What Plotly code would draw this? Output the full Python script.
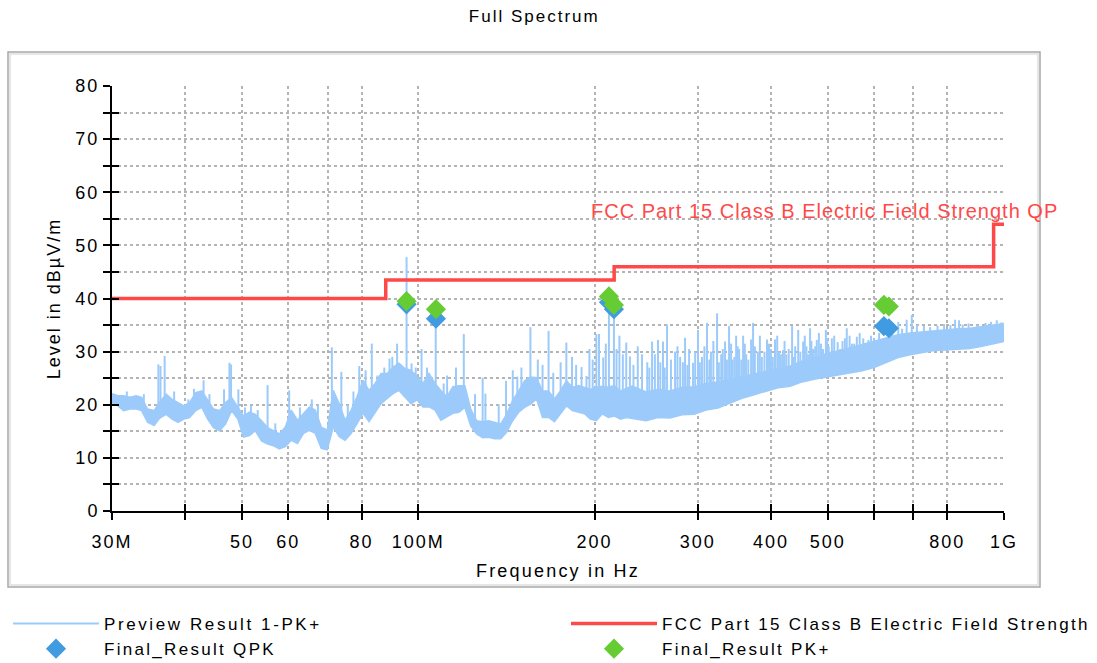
import math
import plotly.graph_objects as go

# ---------------- spectrum data (frequency in MHz, level in dBµV/m) ----------------
# Preview scan: noise band (lower / upper edge) and narrow-band emission peaks
BAND_MHZ = [30.0, 30.7, 31.4, 32.2, 33.0, 33.7, 34.5, 35.4, 36.2, 37.1, 38.0, 38.9, 39.8, 40.7,
            41.7, 42.7, 43.7, 44.7, 45.8, 46.9, 48.0, 49.2, 50.3, 51.5, 52.7, 54.0, 55.3, 56.6,
            57.9, 59.3, 60.7, 62.2, 63.7, 65.2, 66.7, 68.3, 69.9, 71.6, 73.3, 75.0, 76.8, 78.6,
            80.5, 82.4, 84.4, 86.4, 88.5, 90.6, 92.7, 94.9, 97.2, 99.5, 101.9, 104.3, 106.8,
            109.3, 111.9, 114.6, 117.3, 120.1, 122.9, 125.8, 128.8, 131.9, 135.0, 138.3, 141.5,
            144.9, 148.4, 151.9, 155.5, 159.2, 163.0, 166.9, 170.8, 174.9, 179.1, 183.3, 187.7,
            192.2, 196.7, 201.4, 206.2, 211.1, 216.1, 221.3, 226.5, 231.9, 244.9, 256.6, 269.0,
            282.1, 295.7, 310.0, 325.0, 340.7, 357.1, 374.4, 392.5, 411.5, 431.4, 452.2, 474.1,
            497.0, 521.1, 546.2, 572.6, 600.0, 629.1, 659.5, 691.4, 724.6, 759.7, 796.4, 834.9,
            875.2, 917.5, 961.9, 1000.0]
BAND_LO = [20.4, 19.8, 18.9, 19.2, 19.2, 18.9, 16.7, 16.1, 17.5, 18.2, 17.3, 16.7, 17.3, 17.6,
           18.9, 19.5, 17.3, 15.7, 15.1, 16.4, 18.9, 17.3, 13.9, 14.2, 15.1, 13.2, 12.6, 12.3,
           11.7, 12.1, 13.3, 12.7, 14.6, 15.2, 14.6, 11.8, 11.5, 15.8, 14.0, 13.3, 14.6, 16.5,
           18.4, 16.8, 18.4, 20.2, 21.2, 22.1, 22.7, 21.5, 20.2, 20.9, 19.6, 19.6, 19.0,
           17.1, 17.7, 18.4, 18.6, 19.5, 16.0, 14.5, 13.8, 13.9, 13.6, 13.6, 14.8,
           17.0, 18.6, 19.5, 20.1, 21.1, 17.6, 17.6, 16.8, 18.3, 19.8, 18.9, 18.6,
           18.3, 17.3, 17.0, 18.3, 17.6, 17.9, 17.3, 17.6, 17.4, 17.0, 17.6, 17.5,
           18.1, 18.2, 19.0, 19.4, 20.3, 21.2, 21.9, 22.6, 23.2, 23.5, 24.3, 24.8,
           25.2, 25.6, 26.0, 26.4, 27.0, 28.0, 28.9, 29.4, 29.8, 30.2, 30.3, 30.5,
           30.6, 31.0, 31.5, 31.9]
BAND_HI = [22.1, 21.7, 21.7, 21.4, 21.7, 21.4, 19.2, 18.9, 20.5, 22.0, 21.0, 20.4, 19.8, 20.4,
           22.3, 22.6, 21.0, 19.2, 18.9, 20.4, 21.4, 19.5, 17.9, 18.6, 18.2, 17.0, 15.7, 15.1,
           14.5, 15.8, 19.0, 17.1, 18.4, 19.6, 19.0, 15.8, 15.2, 22.7, 20.2, 17.1, 19.0, 21.5,
           24.6, 22.7, 24.0, 25.9, 25.9, 27.1, 27.8, 26.8, 26.5, 25.3, 24.0, 25.9, 24.0,
           22.7, 21.5, 23.4, 23.6, 23.6, 19.2, 17.0, 16.8, 17.0, 16.7, 16.4, 18.2,
           20.8, 22.6, 24.5, 25.2, 25.1, 22.6, 22.6, 21.1, 22.6, 24.5, 23.3, 23.6,
           23.3, 22.9, 23.3, 23.5, 23.3, 23.6, 22.6, 23.0, 23.5, 22.4, 22.9, 22.6,
           23.3, 23.4, 24.0, 24.3, 24.8, 25.4, 25.9, 26.4, 26.9, 27.3, 28.2, 28.9,
           29.6, 30.1, 30.7, 31.3, 32.0, 32.6, 33.2, 33.5, 33.7, 34.0, 34.1, 34.3,
           34.4, 34.7, 35.0, 35.3]

SPIKE_MHZ = [36.0, 36.3, 36.9, 43.0, 46.6, 47.6, 47.9, 49.3, 55.3, 60.2, 71.2, 73.9, 79.3, 83.3,
             89.3, 90.3, 92.0, 95.5, 97.4, 101.3, 107.1, 119.6, 128.8, 130.2, 137.2, 141.2,
             147.6, 155.4, 166.9, 179.0, 190.0, 193.7, 201.4, 203.5, 206.9, 211.6, 215.8,
             220.5, 226.5, 229.8, 237.0, 246.0, 250.7, 253.5, 256.6, 261.7, 265.9, 270.0,
             274.4, 280.0, 285.4, 290.0, 294.5, 300.3, 305.0, 311.1, 316.0, 323.7, 329.0,
             334.0, 339.3, 344.0, 348.9, 353.0, 358.6, 363.0, 370.0, 372.9, 380.0, 386.0,
             393.9, 400.0, 406.5, 413.0, 419.4, 425.0, 434.7, 440.0, 445.3, 454.0, 460.0,
             466.6, 472.0, 479.0, 487.0, 496.5, 502.0, 508.3, 520.0, 530.0, 539.0, 550.0,
             560.7, 575.0, 586.9, 600.0, 612.0, 645.0, 660.0, 670.0, 682.0, 696.0, 710.0,
             730.0, 747.8, 770.0, 790.0, 810.0, 825.0, 838.0, 850.0, 870.0, 900.0, 930.0,
             950.0, 972.0, 990.0,
             # smaller peaks riding on the noise floor
             31.8, 34.0, 38.3, 40.5, 41.4, 44.0, 50.6, 51.8, 53.2, 57.0, 62.8, 65.8, 67.4,
             75.8, 77.5, 81.3, 85.2, 87.5, 99.0, 103.5, 110.5, 112.0, 116.0, 125.0, 145.0,
             150.0, 160.0, 163.0, 170.0, 175.0, 183.0, 186.0, 196.0, 198.5, 209.0, 218.0,
             223.5, 233.0, 241.0, 248.0, 259.0, 263.5, 277.0, 283.0, 288.0, 297.0, 302.5,
             308.0, 314.0, 319.0, 326.0, 331.0, 336.5, 342.0, 346.5, 351.0, 356.0, 361.0,
             366.0, 375.5, 383.0, 390.0, 397.0, 403.0, 410.0, 416.0, 422.0, 429.0, 437.0,
             449.0, 457.0, 463.0, 469.0, 476.0, 483.0, 491.0, 499.0, 505.0, 513.0, 525.0,
             535.0, 545.0, 555.0, 567.0, 580.0, 593.0]
SPIKE_DB = [27.6, 27.3, 29.2, 24.6, 22.9, 27.9, 27.6, 22.9, 23.7, 22.7, 30.8, 26.2, 27.3, 31.5,
            28.7, 29.0, 31.5, 47.8, 27.8, 30.5, 37.0, 33.3, 25.1, 22.1, 20.1, 24.5,
            25.3, 34.6, 33.9, 31.7, 27.1, 25.4, 33.3, 33.3, 28.9, 39.5, 38.5,
            33.0, 31.7, 29.1, 31.0, 28.0, 31.9, 29.5, 32.2, 31.9, 35.1, 28.5,
            30.0, 29.0, 32.6, 30.5, 27.9, 34.1, 29.0, 35.4, 30.0, 37.2, 29.5,
            31.9, 34.8, 28.5, 33.0, 30.5, 33.0, 29.5, 32.3, 35.4, 30.0, 29.0,
            32.3, 30.5, 32.3, 30.0, 30.3, 29.5, 34.8, 31.0, 34.1, 31.9, 31.0,
            34.4, 30.5, 32.2, 31.5, 34.1, 31.0, 32.5, 31.8, 32.0, 34.4, 31.5,
            32.8, 32.5, 32.2, 32.5, 33.5, 34.0, 35.6, 34.3, 36.0, 36.9, 35.0,
            34.8, 34.6, 34.9, 35.2, 35.0, 36.0, 35.9, 35.1, 35.3, 35.0, 35.4,
            35.6, 35.9, 35.5,
            22.5, 22.0, 22.5, 21.0, 23.0, 22.0, 19.5, 19.8, 19.0, 16.5, 19.5, 21.0, 20.0,
            20.0, 22.5, 26.5, 25.5, 27.0, 27.0, 27.0, 24.0, 25.5, 27.0, 22.0, 26.5,
            27.0, 28.5, 27.5, 26.0, 28.0, 29.0, 27.5, 30.5, 28.5, 31.5, 30.5,
            29.5, 27.5, 29.5, 27.0, 28.0, 27.0, 31.0, 28.0, 27.5, 30.0, 28.0,
            31.0, 28.5, 32.0, 28.0, 30.5, 28.5, 31.5, 29.0, 31.0, 28.5, 31.5,
            28.5, 31.0, 33.0, 30.0, 31.5, 29.0, 33.0, 29.5, 32.0, 30.5, 29.0,
            30.0, 33.0, 29.5, 32.0, 31.0, 33.5, 30.5, 32.5, 30.0, 33.0, 30.5,
            32.5, 33.0, 31.5, 33.5, 31.5, 33.0]
SPIKE_BASE_DB = [18.5, 18.5, 19.0, 20.0, 17.0, 19.5, 19.5, 18.0, 13.5, 14.0, 17.0, 15.0, 18.0, 19.5,
                 22.5, 23.0, 23.0, 22.5, 21.0, 20.5, 20.0, 20.0, 14.5, 14.5, 14.0, 15.0,
                 19.0, 21.0, 18.5, 20.5, 19.5, 19.0, 18.0, 18.5, 19.0, 19.0, 19.0,
                 18.5, 18.5, 18.5, 18.5, 18.5, 18.5, 18.5, 18.5, 18.5, 18.5, 18.5,
                 18.5, 19.0, 19.0, 19.0, 19.0, 19.5, 19.5, 19.5, 20.0, 20.0, 20.0,
                 20.5, 20.5, 21.0, 21.0, 21.5, 21.5, 22.0, 22.0, 22.0, 22.5, 22.5,
                 23.0, 23.0, 23.5, 23.5, 23.5, 24.0, 24.0, 24.0, 24.5, 24.5, 25.0,
                 25.0, 25.0, 25.0, 25.5, 25.5, 25.5, 26.0, 26.0, 26.0, 26.5, 26.5,
                 27.0, 27.0, 27.5, 27.5, 28.5, 29.0, 29.5, 29.5, 30.0, 30.0, 30.0,
                 30.5, 30.5, 31.0, 31.0, 31.0, 31.0, 31.0, 31.5, 31.5, 32.0, 32.0,
                 32.0, 32.5, 32.5,
                 20.0, 19.0, 18.0, 18.0, 19.0, 17.0, 15.0, 15.0, 15.0, 13.0, 14.0, 16.0, 15.0,
                 15.0, 17.0, 19.0, 20.0, 22.0, 21.0, 21.0, 18.0, 18.0, 19.0, 15.0, 17.0,
                 19.5, 21.0, 19.0, 18.0, 19.0, 20.0, 19.5, 18.5, 18.5, 18.5, 18.5,
                 18.5, 18.5, 18.5, 18.5, 18.5, 18.5, 19.0, 19.0, 19.0, 19.0, 19.5,
                 19.5, 20.0, 20.0, 20.0, 20.5, 20.5, 21.0, 21.0, 21.5, 21.5, 22.0,
                 22.0, 22.5, 22.5, 23.0, 23.0, 23.0, 23.5, 23.5, 24.0, 24.0, 24.0,
                 24.5, 25.0, 25.0, 25.0, 25.0, 25.5, 25.5, 25.5, 26.0, 26.0, 26.0,
                 26.5, 26.5, 27.0, 27.0, 27.5, 27.5]

# FCC Part 15 Class B radiated limit (QP, 3 m)
LIMIT_MHZ = [30, 88, 216, 960, 1000]
LIMIT_DB = [40.0, 43.5, 46.0, 54.0, 54.0]

# Final measurements
FINAL_MHZ = [95.5, 107.2, 211.6, 215.8, 623.7, 636.0]
QPK_DB = [38.9, 36.2, 39.3, 38.0, 34.8, 34.4]
PK_DB = [39.5, 38.0, 40.4, 38.8, 38.8, 38.5]

# axes
X_TICKS_MHZ = [30, 40, 50, 60, 70, 80, 100, 200, 300, 400, 500, 600, 700, 800, 1000]
X_TICK_TEXT = ["30M", "", "50", "60", "", "80", "100M", "200", "300", "400", "500", "", "", "800", "1G"]
Y_TICKS = list(range(0, 85, 5))
Y_TICK_TEXT = [str(v) if v % 10 == 0 else "" for v in Y_TICKS]

# ---------------- styling ----------------
FONT = "Liberation Sans"
C_PREVIEW = "#9ccbfb"
C_LIMIT = "#ff4848"
C_QPK = "#409be0"
C_PK = "#66cc33"

W, H = 1097, 663
ML, MR, MT, MB = 112, 93, 86, 152
PW, PH = W - ML - MR, H - MT - MB


def sp(text, px=2.0):
    """Text with extra tracking."""
    if not text:
        return text
    return f'<span style="letter-spacing:{px}px">{text}</span>'


def hz(values):
    return [v * 1e6 for v in values]


def px_x(px):
    return (px - ML) / PW


def px_y(px):
    return (H - MB - px) / PH


fig = go.Figure()

# noise band of the preview scan
fig.add_trace(go.Scatter(x=hz(BAND_MHZ), y=BAND_LO, mode="lines",
                         line=dict(color=C_PREVIEW, width=1.5),
                         showlegend=False, legendgroup="pre", hoverinfo="skip"))
fig.add_trace(go.Scatter(x=hz(BAND_MHZ), y=BAND_HI, mode="lines", fill="tonexty",
                         fillcolor=C_PREVIEW, line=dict(color=C_PREVIEW, width=1.5),
                         showlegend=False, legendgroup="pre", hoverinfo="skip"))

# narrow-band peaks of the preview scan
sx, sy = [], []
for f, p, b in zip(SPIKE_MHZ, SPIKE_DB, SPIKE_BASE_DB):
    sx += [f * 1e6, f * 1e6, None]
    sy += [b, p, None]
fig.add_trace(go.Scatter(x=sx, y=sy, mode="lines", line=dict(color=C_PREVIEW, width=2),
                         name=sp("Preview Result 1-PK+", 2.6), legendgroup="pre", legend="legend"))

fig.add_trace(go.Scatter(x=hz(LIMIT_MHZ), y=LIMIT_DB, mode="lines", line_shape="hv",
                         line=dict(color=C_LIMIT, width=3.5),
                         name=sp("FCC Part 15 Class B Electric Field Strength", 2.3),
                         legend="legend2", xaxis="x2", yaxis="y2"))

fig.add_trace(go.Scatter(x=hz(FINAL_MHZ), y=QPK_DB, mode="markers",
                         marker=dict(symbol="diamond", size=15.5, color=C_QPK),
                         name=sp("Final_Result QPK", 2.3), legend="legend",
                         xaxis="x2", yaxis="y2"))
fig.add_trace(go.Scatter(x=hz(FINAL_MHZ), y=PK_DB, mode="markers",
                         marker=dict(symbol="diamond", size=15.5, color=C_PK),
                         name=sp("Final_Result PK+", 2.3), legend="legend2",
                         xaxis="x2", yaxis="y2"))

XR = [math.log10(30e6), 9.0]
YR = [0, 80]
tick_font = dict(family=FONT, size=18, color="black")
common = dict(ticklen=7, tickwidth=2, tickcolor="black", zeroline=False)
legend_common = dict(xanchor="left", yanchor="top", orientation="v", itemwidth=86,
                     tracegroupgap=0, bgcolor="rgba(0,0,0,0)",
                     font=dict(family=FONT, size=17, color="black"))

fig.update_layout(
    width=W, height=H,
    margin=dict(l=ML, r=MR, t=MT, b=MB, autoexpand=False),
    paper_bgcolor="white", plot_bgcolor="white",
    title=dict(text=sp("Full Spectrum", 2), x=0.487, xanchor="center",
               y=1 - 16 / H, yanchor="middle", yref="container",
               font=dict(family=FONT, size=17, color="black")),
    xaxis=dict(type="log", range=XR, tickvals=hz(X_TICKS_MHZ),
               ticktext=[sp(t) for t in X_TICK_TEXT], ticks="outside",
               showline=True, linecolor="black", linewidth=2,
               showgrid=True, gridcolor="#b4b4b4", griddash="dot", gridwidth=1.5,
               tickfont=tick_font, ticklabelstandoff=6,
               title=dict(text=sp("Frequency in Hz", 2.2), standoff=14,
                          font=dict(family=FONT, size=18, color="black")),
               **common),
    yaxis=dict(range=YR, tickvals=Y_TICKS, ticktext=[sp(t) for t in Y_TICK_TEXT],
               ticks="outside", showline=True, linecolor="black", linewidth=2,
               showgrid=True, gridcolor="#b4b4b4", griddash="dot", gridwidth=1.5,
               tickfont=tick_font,
               title=dict(text=sp("Level in dBµV/m", 2), standoff=10,
                          font=dict(family=FONT, size=18, color="black")),
               **common),
    # twin axes carrying the inner half of the crossing tick marks
    xaxis2=dict(type="log", range=XR, overlaying="x", anchor="y2", side="bottom",
                tickvals=hz(X_TICKS_MHZ), ticks="inside", showticklabels=False,
                showgrid=False, showline=False, **common),
    yaxis2=dict(range=YR, overlaying="y", anchor="x2", side="left",
                tickvals=Y_TICKS, ticks="inside", showticklabels=False,
                showgrid=False, showline=False, **common),
    legend=dict(x=px_x(8), y=px_y(606), **legend_common),
    legend2=dict(x=px_x(566), y=px_y(606), **legend_common),
    showlegend=True,
)

# limit line label
fig.add_annotation(text=sp("FCC Part 15 Class B Electric Field Strength QP", 1.0),
                   xref="paper", x=px_x(1060), xanchor="right",
                   yref="y", y=56.4, yanchor="middle", showarrow=False,
                   font=dict(family=FONT, size=20, color=C_LIMIT))

# chart frame
fig.add_shape(type="rect", xref="paper", yref="paper",
              x0=px_x(8), x1=px_x(1040), y0=px_y(587), y1=px_y(52),
              line=dict(color="#a8a8a8", width=1.5), layer="below")
fig.add_shape(type="rect", xref="paper", yref="paper",
              x0=px_x(10), x1=px_x(1038), y0=px_y(585), y1=px_y(54),
              line=dict(color="#e6e6e6", width=2), layer="below")

fig.write_html("out.html")
